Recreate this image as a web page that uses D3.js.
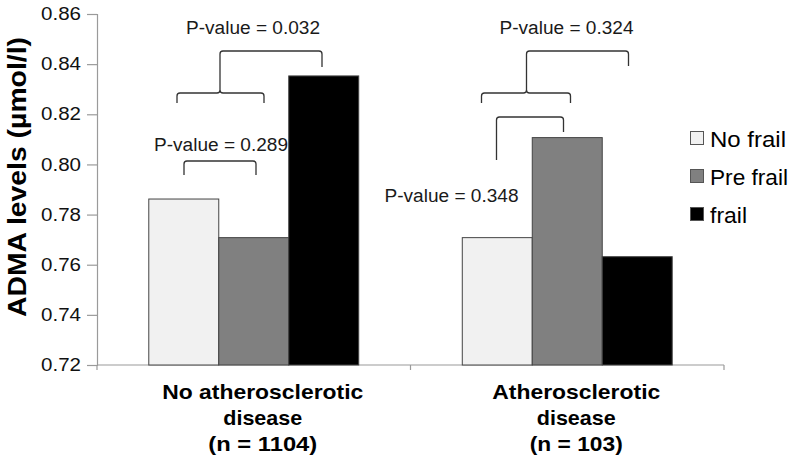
<!DOCTYPE html>
<html>
<head>
<meta charset="utf-8">
<script src="https://cdn.jsdelivr.net/npm/d3@7"></script>
<style>
html,body{margin:0;padding:0;background:#fff;}
svg{display:block;font-family:"Liberation Sans",Arial,Helvetica,sans-serif;}
</style>
</head>
<body>
<svg id="chart" width="795" height="460"></svg>
<script>
// ---- data ----
const categories = ["No atherosclerotic disease (n = 1104)", "Atherosclerotic disease (n = 103)"];
const categoryLines = [["No atherosclerotic", "disease", "(n = 1104)"], ["Atherosclerotic", "disease", "(n = 103)"]];
const series = ["No frail", "Pre frail", "frail"];
const noFrail = [0.7862, 0.7708];
const preFrail = [0.7708, 0.8107];
const frail = [0.8353, 0.7632];
const yTicks = [0.72, 0.74, 0.76, 0.78, 0.80, 0.82, 0.84, 0.86];
const pValues = ["P-value = 0.289", "P-value = 0.032", "P-value = 0.348", "P-value = 0.324"];
const yTitle = "ADMA levels (µmol/l)";

// ---- layout ----
const svg = d3.select("#chart");
const colors = ["#f1f1f1", "#808080", "#000000"];
const values = [noFrail, preFrail, frail];

const y = d3.scaleLinear().domain([0.72, 0.86]).range([365, 14]);
const x0 = d3.scaleBand().domain(categories).range([97, 724]).paddingInner(0).paddingOuter(0);
const x1 = d3.scaleBand().domain(series).range([0, x0.bandwidth()]).paddingInner(0).paddingOuter(0.74);

function fit(sel, w) { sel.attr("textLength", w).attr("lengthAdjust", "spacingAndGlyphs"); }

// y axis
const yAxis = svg.append("g").attr("transform", "translate(97,0)")
  .call(d3.axisLeft(y).tickValues(yTicks).tickFormat(d3.format(".2f")).tickSize(10).tickPadding(6));
yAxis.select(".domain").attr("stroke", "#9a9a9a").attr("stroke-width", 1.2);
yAxis.selectAll(".tick line").attr("stroke", "#9a9a9a").attr("stroke-width", 1.2);
yAxis.selectAll(".tick text").attr("font-size", 17.5).attr("fill", "#111")
  .attr("font-family", "Liberation Sans, Arial, sans-serif").each(function(){ fit(d3.select(this), 40); });

// x axis
const xAxis = svg.append("g").attr("transform", "translate(0,365)");
xAxis.append("line").attr("x1", 97).attr("x2", 724).attr("stroke", "#9a9a9a").attr("stroke-width", 1.2);
const bounds = categories.map(c => x0(c)).concat([x0.range()[1]]);
xAxis.selectAll("line.tk").data(bounds).join("line").attr("class", "tk")
  .attr("x1", d => d).attr("x2", d => d).attr("y1", 0).attr("y2", 5)
  .attr("stroke", "#9a9a9a").attr("stroke-width", 1.2);

// bars
const groups = svg.append("g").selectAll("g").data(categories).join("g")
  .attr("transform", c => `translate(${x0(c)},0)`);
groups.selectAll("rect").data((c, ci) => series.map((s, si) => ({s, si, v: values[si][ci]})))
  .join("rect")
  .attr("x", d => x1(d.s)).attr("width", x1.bandwidth())
  .attr("y", d => y(d.v)).attr("height", d => y(0.72) - y(d.v))
  .attr("fill", d => colors[d.si]).attr("stroke", "#444").attr("stroke-width", 1);

// category labels
const catWidths = [[201, 79, 109], [168, 79, 93]];
const catG = svg.append("g");
categories.forEach((c, ci) => {
  const cx = x0(c) + x0.bandwidth() / 2 + 9;
  categoryLines[ci].forEach((line, li) => {
    const t = catG.append("text").attr("x", cx).attr("y", 399 + li * 26)
      .attr("text-anchor", "middle").attr("font-size", 20.5).attr("font-weight", "bold")
      .attr("fill", "#000").text(line);
    fit(t, catWidths[ci][li]);
  });
});

// y title
const yt = svg.append("text").attr("transform", "translate(26,177) rotate(-90)")
  .attr("text-anchor", "middle").attr("font-size", 26).attr("font-weight", "bold")
  .attr("fill", "#000").text(yTitle);
fit(yt, 280);

// legend
const legW = [76, 78, 37];
const leg = svg.append("g");
series.forEach((s, i) => {
  const yy = 147 + i * 38;
  leg.append("rect").attr("x", 690.5).attr("y", yy - 15.5).attr("width", 13).attr("height", 13)
    .attr("fill", colors[i]).attr("stroke", "#555").attr("stroke-width", 1);
  const t = leg.append("text").attr("x", 710).attr("y", yy).attr("font-size", 22.5)
    .attr("fill", "#000").text(s);
  fit(t, legW[i]);
});

// significance brackets
const ann = svg.append("g").attr("fill", "none").attr("stroke", "#333").attr("stroke-width", 1.3);
const r = 3;
function bracket(xa, xb, yTop, ya, yb) {
  return `M${xa},${ya} L${xa},${yTop + r} Q${xa},${yTop} ${xa + r},${yTop} L${xb - r},${yTop} Q${xb},${yTop} ${xb},${yTop + r} L${xb},${yb}`;
}
function brace(xa, xb, xm, yTop, yEnd, yNotch) {
  return `M${xa},${yEnd} L${xa},${yTop + r} Q${xa},${yTop} ${xa + r},${yTop} L${xm - r},${yTop} Q${xm},${yTop} ${xm},${yTop - r} L${xm},${yNotch}` +
    ` M${xm},${yTop - r} Q${xm},${yTop} ${xm + r},${yTop} L${xb - r},${yTop} Q${xb},${yTop} ${xb},${yTop + r} L${xb},${yEnd}`;
}
const b0 = x0(categories[0]), b1 = x0(categories[1]);
// group 1
ann.append("path").attr("d", bracket(b0 + 87, b0 + 159, 161, 175, 175));
ann.append("path").attr("d", brace(b0 + 80, b0 + 167, b0 + 123, 93, 103, 80));
ann.append("path").attr("d", bracket(b0 + 123, b0 + 225, 51, 80, 67));
// group 2
ann.append("path").attr("d", bracket(b1 + 86, b1 + 153, 117, 160, 132));
ann.append("path").attr("d", brace(b1 + 71, b1 + 160, b1 + 116, 93, 103, 80));
ann.append("path").attr("d", bracket(b1 + 116, b1 + 218, 51, 80, 66));

const pPos = [[b0 + 124, 151], [b0 + 156, 34], [b1 + 41, 202], [b1 + 156, 34]];
pValues.forEach((p, i) => {
  const t = svg.append("text").attr("x", pPos[i][0]).attr("y", pPos[i][1])
    .attr("text-anchor", "middle").attr("font-size", 18).attr("fill", "#1a1a1a").text(p);
  fit(t, 134);
});
</script>
</body>
</html>
